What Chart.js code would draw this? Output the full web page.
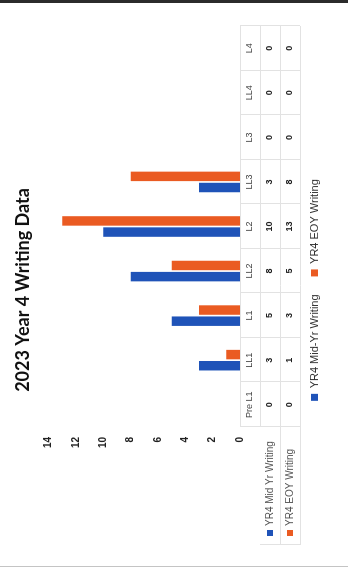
<!DOCTYPE html>
<html>
<head>
<meta charset="utf-8">
<script src="https://cdn.jsdelivr.net/npm/chart.js@4"></script>
<style>
  html, body { margin: 0; padding: 0; background: #fff; }
  body { width: 348px; height: 580px; overflow: hidden; position: relative; }
  /* the chart is drawn upright and then turned a quarter to the left, like the scan */
  #wrap { position: absolute; left: 0; top: 0; width: 580px; height: 348px;
          transform-origin: top left; transform: translateY(580px) rotate(-90deg); }
  .edgeTop { position: absolute; left: 0; top: 0; width: 348px; height: 3px; background: #2b2b2b; }
  .edgeBottom { position: absolute; left: 0; top: 566px; width: 348px; height: 1px; background: #c4c4c4; }
</style>
</head>
<body>
<div id="wrap"><canvas id="chart" width="580" height="348"></canvas></div>
<div class="edgeTop"></div>
<div class="edgeBottom"></div>
<script>
const categories = ['Pre L1', 'LL1', 'L1', 'LL2', 'L2', 'LL3', 'L3', 'LL4', 'L4'];
const midYear = [0, 3, 5, 8, 10, 3, 0, 0, 0];
const endOfYear = [0, 1, 3, 5, 13, 8, 0, 0, 0];
const legendNames = ['YR4 Mid-Yr Writing', 'YR4 EOY Writing'];
const tableNames = ['YR4 Mid Yr Writing', 'YR4 EOY Writing'];
const yMax = 14;
const yStep = 2;

const blue = '#1f53b8';
const orange = '#ea5b22';
const lineGrey = '#e2e2e2';

// data table under the axis (Excel style), built from the same arrays
const dataTable = {
  id: 'dataTable',
  afterDraw(chart) {
    const ctx = chart.ctx;
    const x = chart.scales.x;
    const area = chart.chartArea;
    const top = area.bottom;
    const rowH = 20;
    const rows = [midYear, endOfYear];
    const colours = [blue, orange];
    const half = (x.getPixelForValue(1) - x.getPixelForValue(0)) / 2;
    const labelLeft = 35;

    ctx.save();
    ctx.strokeStyle = lineGrey;
    ctx.lineWidth = 1;
    // horizontal lines
    ctx.beginPath();
    ctx.moveTo(area.left, top + 0.5); ctx.lineTo(area.right, top + 0.5);
    for (let r = 1; r <= 3; r++) {
      const y = Math.round(top + r * rowH) + 0.5;
      ctx.moveTo(r === 1 ? area.left : labelLeft, y);
      ctx.lineTo(area.right, y);
    }
    // vertical lines between categories
    for (let i = 0; i <= categories.length; i++) {
      const xx = Math.round(x.getPixelForValue(i) - half) + 0.5;
      ctx.moveTo(xx, top);
      ctx.lineTo(xx, top + 3 * rowH);
    }
    ctx.moveTo(labelLeft + 0.5, top + rowH);
    ctx.lineTo(labelLeft + 0.5, top + 3 * rowH);
    ctx.stroke();

    // row names with their keys
    ctx.font = '10px "Liberation Sans", Arial, sans-serif';
    ctx.textBaseline = 'middle';
    for (let r = 0; r < rows.length; r++) {
      const cy = top + (r + 1.5) * rowH;
      ctx.fillStyle = colours[r];
      ctx.fillRect(labelLeft + 9, cy - 3, 6, 6);
      ctx.fillStyle = '#555';
      ctx.textAlign = 'left';
      ctx.fillText(tableNames[r], labelLeft + 19, cy);
    }

    // values
    ctx.font = 'bold 9px "Liberation Sans", Arial, sans-serif';
    ctx.fillStyle = '#222';
    ctx.textAlign = 'center';
    for (let r = 0; r < rows.length; r++) {
      const cy = top + (r + 1.5) * rowH;
      rows[r].forEach((v, i) => ctx.fillText(String(v), x.getPixelForValue(i), cy));
    }
    ctx.restore();
  }
};

new Chart(document.getElementById('chart'), {
  type: 'bar',
  data: {
    labels: categories,
    datasets: [
      { label: legendNames[0], data: midYear, backgroundColor: blue },
      { label: legendNames[1], data: endOfYear, backgroundColor: orange }
    ]
  },
  options: {
    responsive: false,
    animation: false,
    datasets: { bar: { categoryPercentage: 0.5, barPercentage: 0.85 } },
    layout: { padding: { left: 26, right: 26, top: 0, bottom: 18 } },
    plugins: {
      title: {
        display: true,
        text: '2023 Year 4 Writing Data',
        color: '#111',
        font: { family: 'Lato, "Open Sans", sans-serif', size: 18, weight: 'bold' },
        padding: { top: 12, bottom: 15 }
      },
      legend: {
        position: 'bottom',
        labels: {
          boxWidth: 7, boxHeight: 7, padding: 18, color: '#333',
          font: { family: '"Liberation Sans", Arial, sans-serif', size: 11 }
        }
      },
      tooltip: { enabled: false }
    },
    scales: {
      x: {
        grid: { display: false, drawTicks: false },
        border: { display: false },
        ticks: { color: '#444', padding: 4, font: { family: '"Liberation Sans", Arial, sans-serif', size: 9 } },
        afterFit(scale) { scale.height = 51; }
      },
      y: {
        min: 0, max: yMax,
        grid: { display: false, drawTicks: false },
        border: { display: false },
        ticks: { stepSize: yStep, color: '#222', padding: 10,
                 font: { family: '"Liberation Sans", Arial, sans-serif', size: 10, weight: 'bold' } },
        afterFit(scale) { scale.width = 127; }
      }
    }
  },
  plugins: [dataTable]
});
</script>
</body>
</html>
